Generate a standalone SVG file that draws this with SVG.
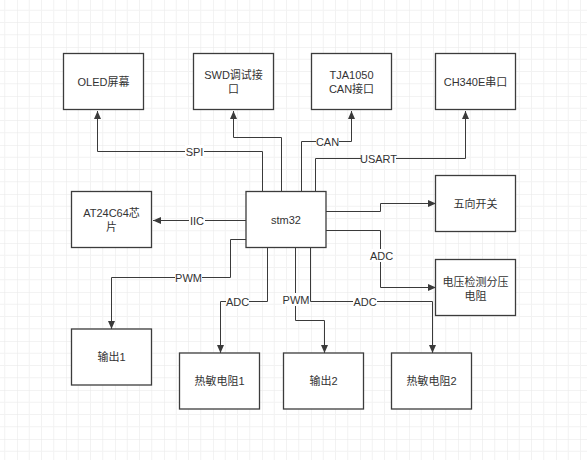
<svg xmlns="http://www.w3.org/2000/svg" width="587" height="460" viewBox="0 0 587 460">
<defs>
<pattern id="grid" x="-32" y="-2" width="49" height="49" patternUnits="userSpaceOnUse">
<path d="M12.25,0 V49 M24.5,0 V49 M36.75,0 V49 M0,12.25 H49 M0,24.5 H49 M0,36.75 H49" stroke="#f2f2f2" stroke-width="1" fill="none"/>
<path d="M0,0 V49 M0,0 H49" stroke="#e8e8e8" stroke-width="1" fill="none"/>
</pattern>
<marker id="arr" markerUnits="userSpaceOnUse" markerWidth="9" markerHeight="8" refX="8" refY="3.5" orient="auto">
<path d="M0,0 L8,3.5 L0,7 z" fill="#3a3a3a"/>
</marker>
<style>
.box{fill:#ffffff;stroke:#3c3c3c;stroke-width:1.3}
.t{font-family:"Liberation Sans","Noto Sans CJK SC",sans-serif;font-size:11px;fill:#333333;text-anchor:middle;dominant-baseline:central}
.ln{fill:none;stroke:#3a3a3a;stroke-width:1;marker-end:url(#arr)}
.lb{fill:#ffffff}
</style>
</defs>
<rect width="587" height="460" fill="#ffffff"/>
<rect width="587" height="460" fill="url(#grid)"/>

<g id="connectors">
<path class="ln" d="M262.5,192 V151.5 H97.5 V111"/>
<path class="ln" d="M281.5,192 V137.5 H233.5 V111"/>
<path class="ln" d="M301.5,192 V141.5 H351.5 V111"/>
<path class="ln" d="M315.5,192 V158.5 H465.5 V111"/>
<path class="ln" d="M246,220.5 H153"/>
<path class="ln" d="M246,239.5 H230.5 V277.5 H111.5 V329"/>
<path class="ln" d="M267.5,248 V301.5 H220.5 V353"/>
<path class="ln" d="M295.5,248 V320.5 H324.5 V353"/>
<path class="ln" d="M310.5,248 V301.5 H432.5 V353"/>
<path class="ln" d="M326,211.5 H380.5 V203.5 H436"/>
<path class="ln" d="M326,230.5 H380.5 V287.5 H436"/>
<g id="labels">
<rect class="lb" x="185" y="145" width="19" height="13"/><text class="t" x="194.5" y="151.5">SPI</text>
<rect class="lb" x="316" y="135" width="23" height="13"/><text class="t" x="327.5" y="141.5">CAN</text>
<rect class="lb" x="361" y="152" width="35" height="13"/><text class="t" x="378.5" y="158.5">USART</text>
<rect class="lb" x="189" y="214" width="16" height="13"/><text class="t" x="197" y="220.5">IIC</text>
<rect class="lb" x="175" y="271" width="27" height="13"/><text class="t" x="188.5" y="277.5">PWM</text>
<rect class="lb" x="226" y="295" width="23" height="13"/><text class="t" x="237.5" y="301.5">ADC</text>
<rect class="lb" x="282" y="293" width="28" height="13"/><text class="t" x="296" y="299.5">PWM</text>
<rect class="lb" x="353" y="295" width="24" height="13"/><text class="t" x="365" y="301.5">ADC</text>
<rect class="lb" x="370" y="249" width="23" height="13"/><text class="t" x="381.5" y="255.5">ADC</text>
</g>
</g>

<g id="oled"><rect class="box" x="63.5" y="53.5" width="80" height="56"/><text class="t" x="103.5" y="81.5">OLED屏幕</text></g>
<g id="swd"><rect class="box" x="193.5" y="53.5" width="80" height="56"/><text class="t" x="233.5" y="74.5">SWD调试接</text><text class="t" x="233.5" y="88.5">口</text></g>
<g id="tja"><rect class="box" x="311.5" y="53.5" width="80" height="56"/><text class="t" x="351.5" y="74.5">TJA1050</text><text class="t" x="351.5" y="88.5">CAN接口</text></g>
<g id="ch340"><rect class="box" x="435.5" y="53.5" width="80" height="56"/><text class="t" x="475.5" y="81.5">CH340E串口</text></g>
<g id="at24"><rect class="box" x="71.5" y="191.5" width="80" height="56"/><text class="t" x="111.5" y="213">AT24C64芯</text><text class="t" x="111.5" y="227">片</text></g>
<g id="stm32"><rect class="box" x="246" y="191.5" width="80" height="56"/><text class="t" x="286" y="220">stm32</text></g>
<g id="switch"><rect class="box" x="435.5" y="175.5" width="80" height="56"/><text class="t" x="475.5" y="203.5">五向开关</text></g>
<g id="vdiv"><rect class="box" x="435.5" y="259.5" width="80" height="56"/><text class="t" x="475.5" y="281.5">电压检测分压</text><text class="t" x="475.5" y="295.5">电阻</text></g>
<g id="out1"><rect class="box" x="71.5" y="329" width="80" height="56"/><text class="t" x="111.5" y="357">输出1</text></g>
<g id="therm1"><rect class="box" x="179.5" y="353" width="80" height="56"/><text class="t" x="219.5" y="381">热敏电阻1</text></g>
<g id="out2"><rect class="box" x="283.5" y="353" width="80" height="56"/><text class="t" x="323.5" y="381">输出2</text></g>
<g id="therm2"><rect class="box" x="391.5" y="353" width="80" height="56"/><text class="t" x="431.5" y="381">热敏电阻2</text></g>
</svg>
